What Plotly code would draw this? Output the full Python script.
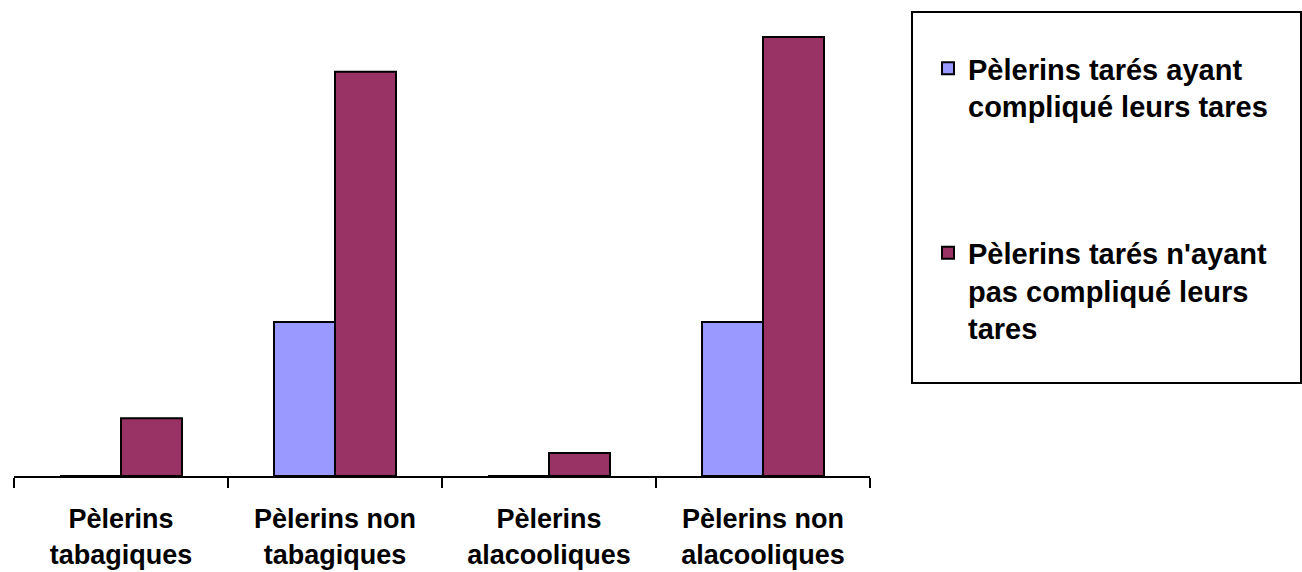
import plotly.graph_objects as go

categories = ["Pèlerins<br>tabagiques", "Pèlerins non<br>tabagiques",
              "Pèlerins<br>alacooliques", "Pèlerins non<br>alacooliques"]
series_names = ["Pèlerins tarés ayant<br>compliqué leurs tares",
                "Pèlerins tarés n'ayant<br>pas compliqué leurs<br>tares"]
compliques = [0, 8, 0, 8]
non_compliques = [3, 21, 1.2, 22.8]
colors = ["#9999FF", "#993366"]

FONT = "Liberation Sans, Arial, sans-serif"

fig = go.Figure()
for i, (name, vals) in enumerate(zip(series_names, [compliques, non_compliques])):
    fig.add_trace(go.Bar(
        x=categories, y=vals, name=name, legendgroup=f"g{i}",
        marker=dict(color=colors[i], line=dict(color="black", width=2)),
    ))

fig.update_layout(
    width=1302, height=572,
    margin=dict(l=14, r=432, t=14, b=96, autoexpand=False),
    paper_bgcolor="white", plot_bgcolor="white",
    barmode="group", bargap=0.43, bargroupgap=0,
    showlegend=True,
    legend=dict(
        x=(928 - 14) / 856, xanchor="left",
        y=(476 - 43) / 462, yanchor="top",
        font=dict(family=FONT, size=29, color="black", weight="bold"),
        bgcolor="rgba(0,0,0,0)", borderwidth=0, valign="top",
        tracegroupgap=106, traceorder="grouped",
    ),
    xaxis=dict(
        showline=True, linecolor="black", linewidth=2,
        ticks="outside", tickson="boundaries", ticklen=10, tickwidth=2, tickcolor="black",
        tickfont=dict(family=FONT, size=27, color="black", weight="bold"),
        ticklabelstandoff=18, showgrid=False, zeroline=False, automargin=False,
    ),
    yaxis=dict(visible=False, range=[0, 24], showgrid=False, zeroline=False, automargin=False),
    shapes=[dict(
        type="rect", xref="paper", yref="paper",
        x0=(912 - 14) / 856, x1=(1301 - 14) / 856,
        y0=(476 - 383) / 462, y1=(476 - 12) / 462,
        line=dict(color="black", width=2), fillcolor="rgba(0,0,0,0)", layer="below",
    )],
)

fig.write_html("out.html", config={"displayModeBar": False},
               post_script="document.body.style.margin='0';")
